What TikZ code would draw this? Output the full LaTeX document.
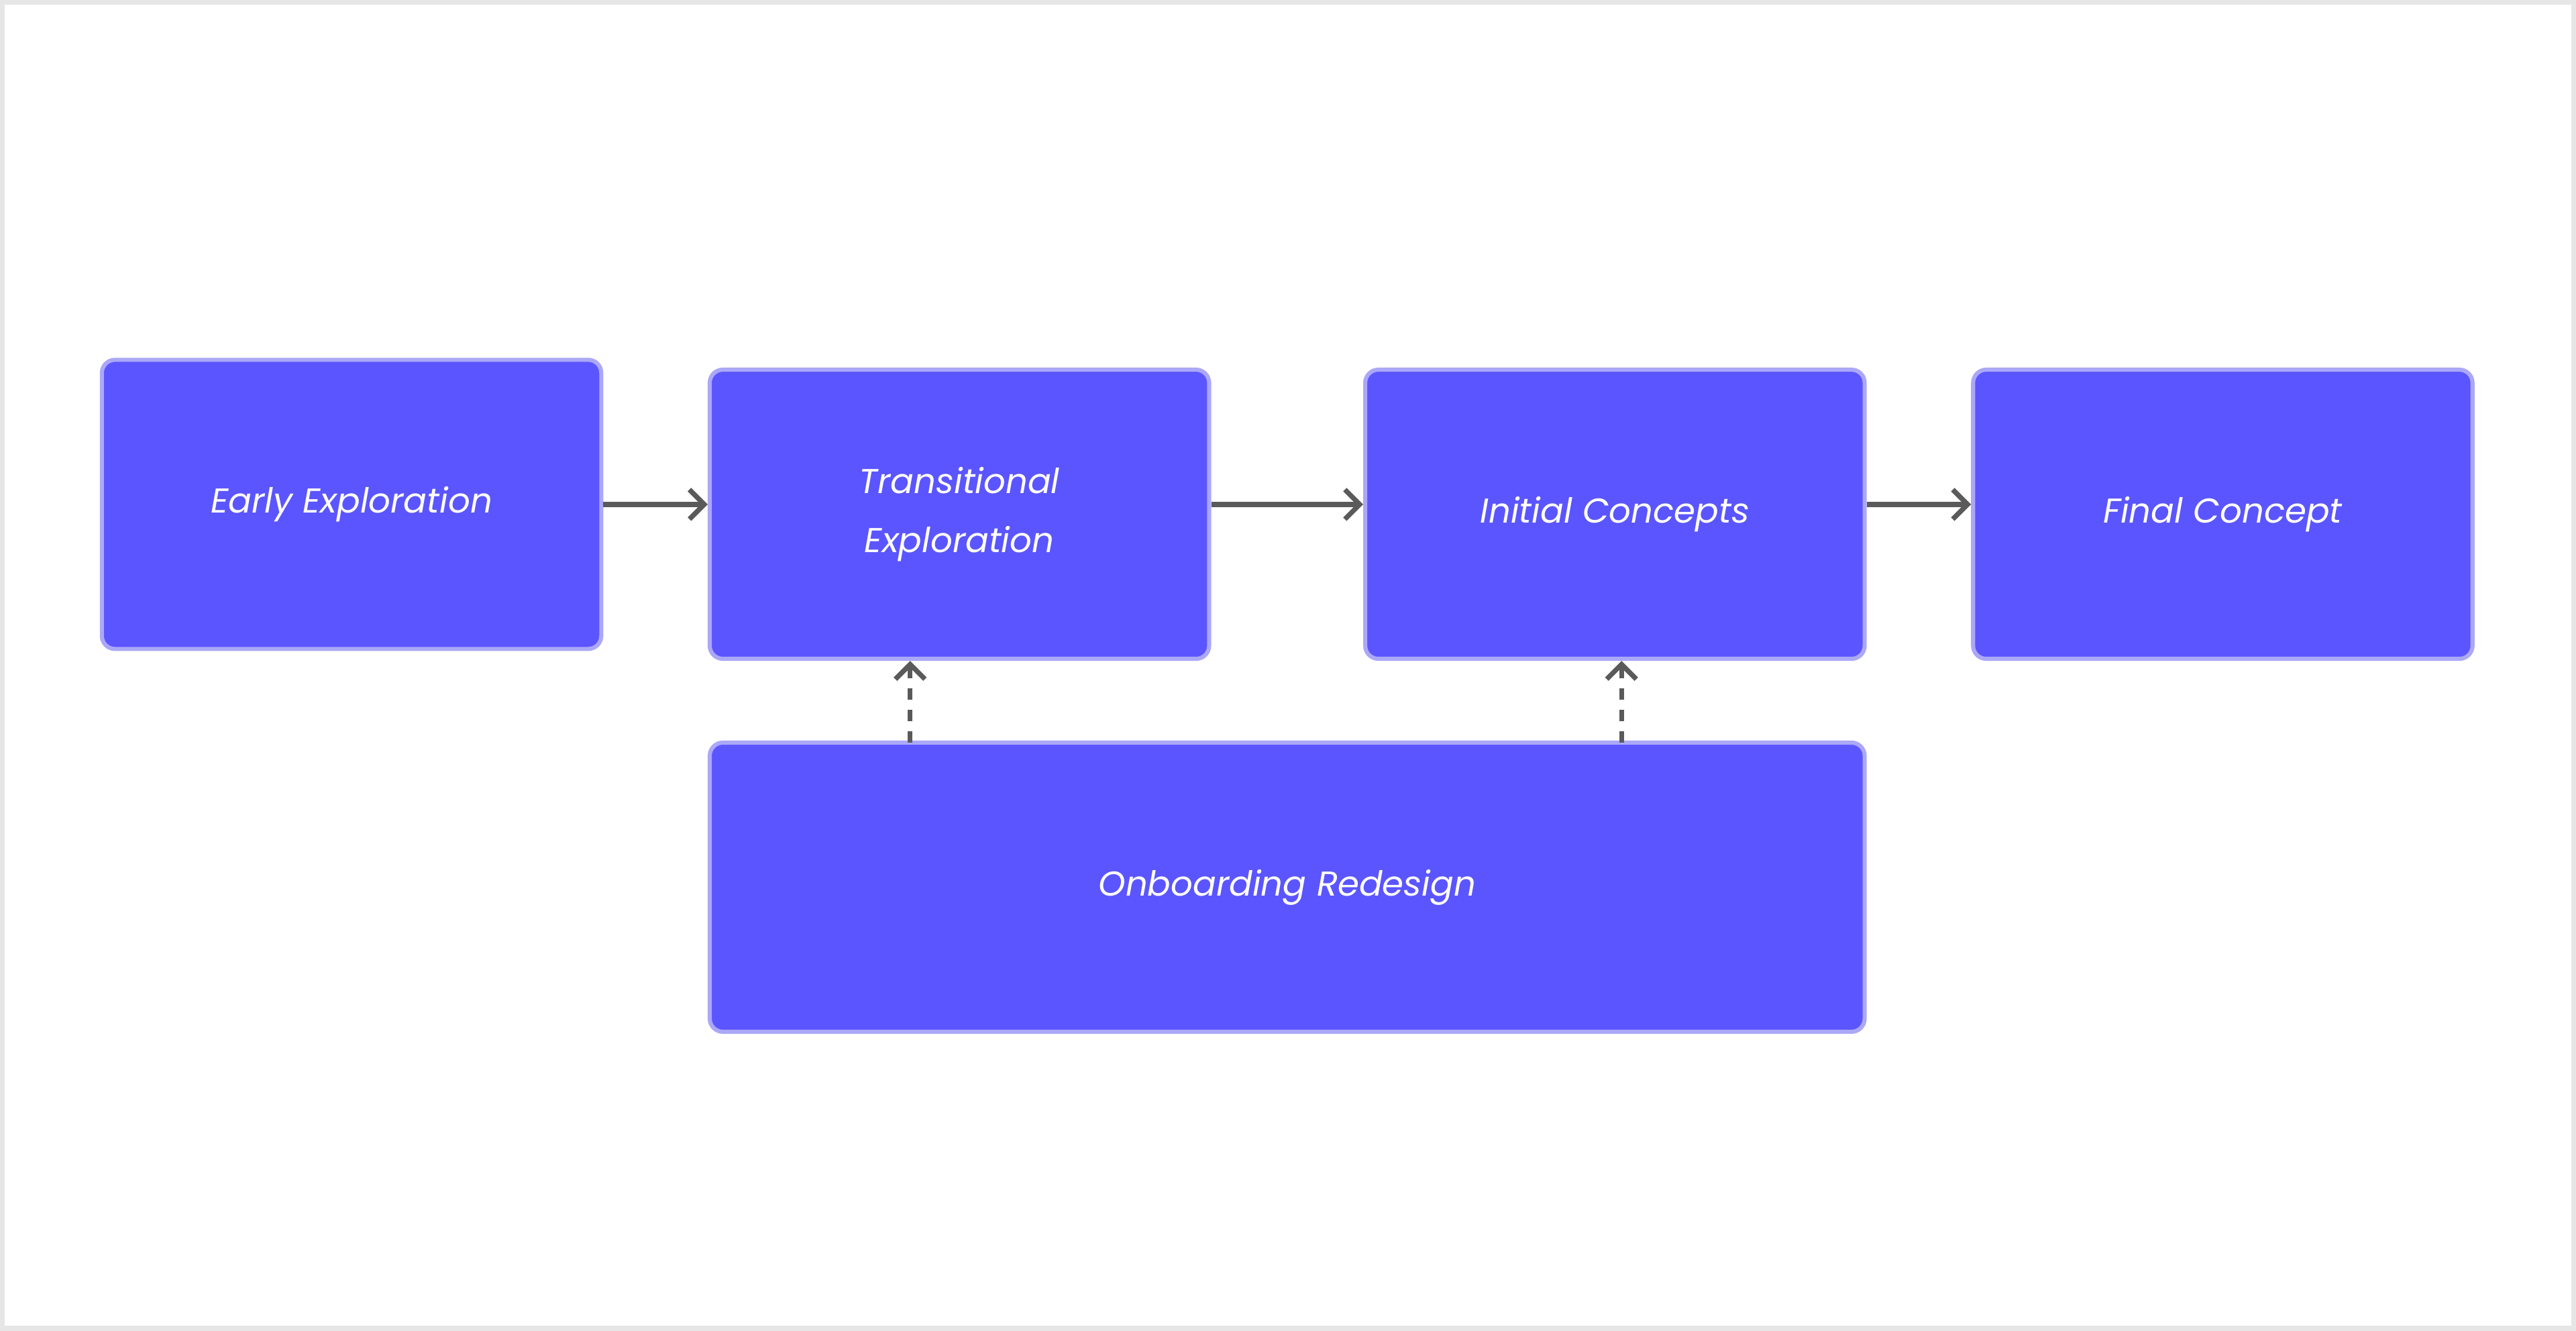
\documentclass[tikz,border=0pt]{standalone}
\usepackage{fontspec}
\setmainfont{Poppins}
\usetikzlibrary{arrows.meta}
\definecolor{boxfill}{HTML}{5B55FF}
\definecolor{boxline}{HTML}{ABA8F7}
\definecolor{arr}{HTML}{5A5A5A}
\definecolor{frame}{HTML}{E6E6E6}
\begin{document}
\begin{tikzpicture}[x=1pt,y=-1pt,
  box/.style={draw=boxline,line width=2.5pt,fill=boxfill,rounded corners=8pt,text=white,
    font=\itshape\fontsize{21}{36}\selectfont,align=center,inner sep=0pt},
  conn/.style={draw=arr,line width=3pt,-{Straight Barb[length=9pt,width=18pt,line width=3pt]}},
  dconn/.style={conn,dash pattern=on 7pt off 6pt}]
\useasboundingbox (0,0) rectangle (1568,810);
\draw[frame,line width=3pt] (1.5,1.5) rectangle (1566.5,808.5);
\node[box,minimum width=304pt,minimum height=176pt] (a) at (214,307) {Early Exploration};
\node[box,minimum width=304pt,minimum height=176pt] (b) at (584,313) {Transitional\\Exploration};
\node[box,minimum width=304pt,minimum height=176pt] (c) at (983,313) {Initial Concepts};
\node[box,minimum width=304pt,minimum height=176pt] (d) at (1353,313) {Final Concept};
\node[box,minimum width=703pt,minimum height=176pt] (e) at (783.5,540) {Onboarding Redesign};
\coordinate (e1) at (554,452); \coordinate (e2) at (987,452);
\draw[conn] (a.east |- 0,307) -- (b.west |- 0,307);
\draw[conn] (b.east |- 0,307) -- (c.west |- 0,307);
\draw[conn] (c.east |- 0,307) -- (d.west |- 0,307);
\draw[dconn] (e1) -- (b.south -| e1);
\draw[dconn] (e2) -- (c.south -| e2);
\end{tikzpicture}
\end{document}
